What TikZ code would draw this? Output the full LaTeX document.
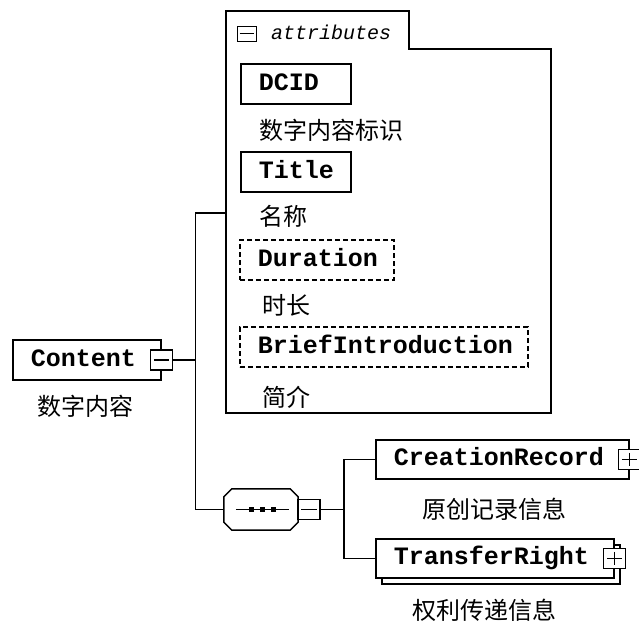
\documentclass[tikz,border=0pt]{standalone}
\usepackage{fontspec}
\newfontfamily\namefont{Liberation Mono}
\newfontfamily\cjk{Noto Sans CJK SC}
\usetikzlibrary{shadows}
\newcommand{\elemfont}{\namefont\bfseries\fontsize{25}{25}\selectfont\hyphenchar\font=-1 }
\newcommand{\attrfont}{\namefont\itshape\fontsize{20}{20}\selectfont}
\newcommand{\notefont}{\cjk\fontsize{24}{24}\selectfont}
\newcommand{\drawminus}[1]{ % Parameter: toggle node
  \draw[line width=1.2pt] ([xshift=4pt]#1.west) -- ([xshift=-4pt]#1.east);
}
\newcommand{\drawplus}[1]{ % Parameter: toggle node
  \drawminus{#1}
  \draw[line width=1.2pt] ([yshift=-4pt]#1.north) -- ([yshift=4pt]#1.south);
}
\newcommand{\drawoctagon}[2]{ % Parameters: node, corner cut
  \draw[line width=1.5pt] ([xshift=#2]#1.north west) -- ([xshift=-#2]#1.north east)
    -- ([yshift=-#2]#1.north east) -- ([yshift=#2]#1.south east) -- ([xshift=-#2]#1.south east)
    -- ([xshift=#2]#1.south west) -- ([yshift=#2]#1.south west) -- ([yshift=-#2]#1.north west) -- cycle;
}
\tikzset{
  wire/.style={line width=1.5pt},
  elem/.style={draw, fill=white, line width=1.5pt, anchor=west, align=left, inner xsep=18pt,
    minimum height=40pt, text height=17pt, text depth=5pt, font=\elemfont},
  optional/.style={dash pattern=on 5pt off 3pt},
  toggle/.style={draw, fill=white, line width=1.5pt, minimum width=22pt, minimum height=20pt, inner sep=0pt},
  seqbox/.style={minimum width=74pt, minimum height=41pt, inner sep=0pt},
  note/.style={anchor=west, inner sep=0pt, font=\notefont}
}

\begin{document}
\begin{tikzpicture}[x=1pt, y=-1pt]
  \useasboundingbox (0,0) rectangle (639,625);
  % attribute group
  \draw[wire] (226,413) -- (226,11) -- (409,11) -- (409,49) -- (551,49) -- (551,413) -- cycle;
  \coordinate (attrs) at (226,213);
  \node[draw, line width=1pt, minimum width=19pt, minimum height=15pt, inner sep=0pt] (atog) at (246.5,33.5) {};
  \draw[line width=1pt] ([xshift=3pt]atog.west) -- ([xshift=-3pt]atog.east);
  \node[anchor=west, inner sep=0pt, font=\attrfont] (atitle) at (271,32) {attributes};
  \node[elem, text width=74pt] (dcid) at (240,84) {DCID};
  \node[note] (dcidnote) at (259,130) {数字内容标识};
  \node[elem, text width=74pt] (title) at (240,172) {Title};
  \node[note] (titlenote) at (259,216) {名称};
  \node[elem, optional, text width=118pt] (duration) at (239,260) {Duration};
  \node[note] (durationnote) at (262,305) {时长};
  \node[elem, optional, text width=252pt] (brief) at (239,347) {BriefIntroduction};
  \node[note] (briefnote) at (262,397) {简介};
  % root element
  \node[elem, text width=112pt] (content) at (12,360) {Content};
  \node[toggle] (ctog) at (content.east) {};
  \drawminus{ctog}
  \node[note] (contentnote) at (37,406) {数字内容};
  % sequence
  \node[seqbox] (seq) at (261,509.5) {};
  \drawoctagon{seq}{8pt}
  \draw[line width=1.2pt] ([xshift=12pt]seq.west) -- ([xshift=-9pt]seq.east);
  \foreach \dx in {-10,1,12}
    \fill ([xshift=\dx pt]seq.center) +(-2.5,-2.5) rectangle +(2.5,2.5);
  \node[toggle] (stog) at (309,509.5) {};
  \drawminus{stog}
  % child elements
  \node[elem, minimum height=39pt, text width=217pt] (creation) at (375,459.5) {CreationRecord};
  \node[toggle] (crtog) at (creation.east) {};
  \drawplus{crtog}
  \node[note] (creationnote) at (422,509) {原创记录信息};
  \node[elem, minimum height=39pt, text width=202pt,
    copy shadow={shadow xshift=6pt, shadow yshift=-6pt}] (transfer) at (375,558.5) {TransferRight};
  \node[toggle] (trtog) at (transfer.east) {};
  \drawplus{trtog}
  \node[note] (transfernote) at (412,610) {权利传递信息};
  % connectors
  \draw[wire] (ctog.east) -- ++(22,0) |- (attrs);
  \draw[wire] (ctog.east) -- ++(22,0) |- (seq.west);
  \draw[wire] (stog.east) -- ++(23,0) |- (creation.west);
  \draw[wire] (stog.east) -- ++(23,0) |- (transfer.west);
\end{tikzpicture}
\end{document}
